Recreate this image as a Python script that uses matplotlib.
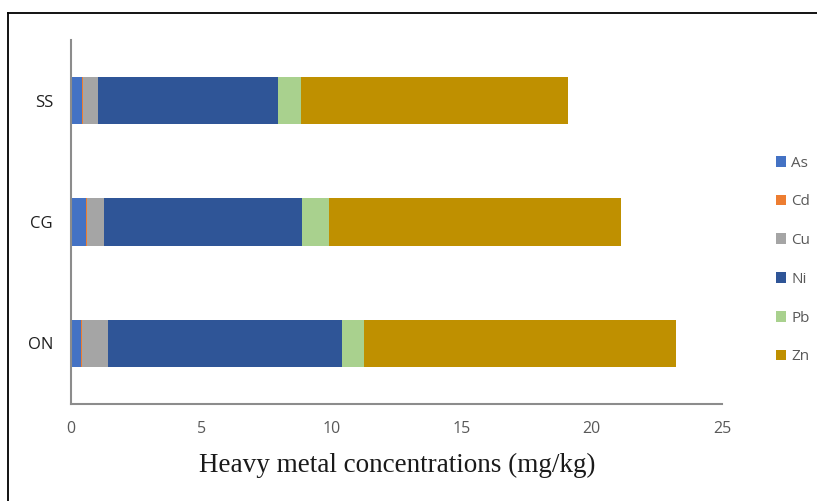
import numpy as np
import matplotlib.pyplot as plt
from matplotlib.lines import Line2D

sites = ['ON', 'CG', 'SS']
metals = ['As', 'Cd', 'Cu', 'Ni', 'Pb', 'Zn']
# values per site in the order ON, CG, SS (mg/kg)
As = [0.37, 0.56, 0.44]
Cd = [0.05, 0.06, 0.04]
Cu = [1.01, 0.66, 0.55]
Ni = [8.96, 7.58, 6.91]
Pb = [0.87, 1.03, 0.90]
Zn = [11.99, 11.25, 10.26]
series = [As, Cd, Cu, Ni, Pb, Zn]
colores = ['#4472C4', '#ED7D31', '#A5A5A5', '#2F5597', '#A9D18E', '#BF9000']

fig = plt.figure(figsize=(8.17, 5.01), dpi=100)
ax = fig.add_axes([71/817, 97/501, 651/817, 364/501])

y = np.arange(len(sites))
left = np.zeros(len(sites))
for nombre, vals, c in zip(metals, series, colores):
    ax.barh(y, vals, left=left, height=0.39, color=c, label=nombre)
    left = left + np.array(vals)

ax.set_xlim(0, 25)
ax.set_ylim(-0.5, 2.5)
ax.set_xticks([0, 5, 10, 15, 20, 25])
ax.set_yticks(y)
ax.set_yticklabels(sites, fontsize=12, color='#1f1f1f', family='Open Sans')
ax.tick_params(axis='x', length=0, pad=12, labelsize=11.5, labelcolor='#595959')
ax.tick_params(axis='y', length=0, pad=13)
for t in ax.get_xticklabels():
    t.set_family('Open Sans')
for s in ['top', 'right']:
    ax.spines[s].set_visible(False)
ax.spines['left'].set_color('#8c8c8c')
ax.spines['bottom'].set_color('#8c8c8c')
ax.spines['left'].set_linewidth(1.5)
ax.spines['bottom'].set_linewidth(1.5)

ax.set_xlabel('Heavy metal concentrations (mg/kg)', family='Liberation Serif',
              fontsize=19.5, color='#1a1a1a', va='center')
ax.xaxis.set_label_coords(0.5015, -0.168)

leg = fig.legend(loc='center left', bbox_to_anchor=(762/817, 1 - 260/501), frameon=False,
                 handlelength=0.7, handleheight=0.7, handletextpad=0.3,
                 labelspacing=1.55, prop={'family': 'Open Sans', 'size': 11})
for t in leg.get_texts():
    t.set_color('#595959')

# outer frame (top and left edges only visible)
fig.add_artist(Line2D([8/817, 8/817], [0, 1 - 13/501], transform=fig.transFigure, color='black', lw=1.3))
fig.add_artist(Line2D([8/817, 1], [1 - 13/501, 1 - 13/501], transform=fig.transFigure, color='black', lw=1.3))

fig.savefig('out.png', dpi=100)
